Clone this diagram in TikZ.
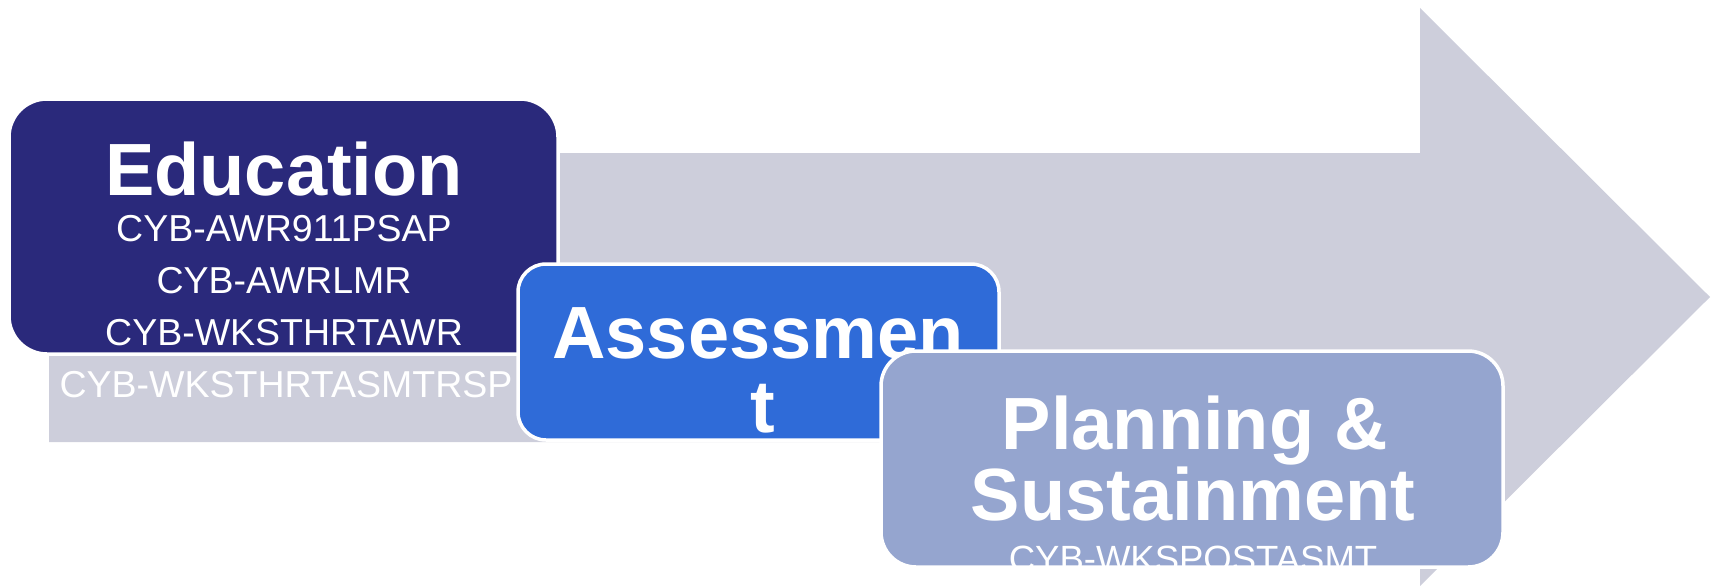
\documentclass[tikz,border=0pt]{standalone}
\usepackage{fontspec}
\setmainfont{Liberation Sans}
\definecolor{arrowgray}{HTML}{CDCEDB}
\definecolor{edunavy}{HTML}{2A297B}
\definecolor{assessblue}{HTML}{2F6BD8}
\definecolor{planlilac}{HTML}{95A5CF}
\begin{document}
\begin{tikzpicture}[x=1pt,y=-1pt,
  stagebox/.style={draw=white, line width=3.5pt, inner sep=0pt},
  title/.style={text=white, font=\fontsize{74}{74}\selectfont\bfseries, anchor=base, inner sep=0pt},
  code/.style={text=white, font=\fontsize{37.5}{37.5}\selectfont, anchor=base, inner sep=0pt}]
\useasboundingbox (0,0) rectangle (1717,586);

% large background arrow
\fill[arrowgray] (49,153) -- (1420,153) -- (1420,8) -- (1710,297)
  -- (1420,586) -- (1420,442) -- (49,442) -- cycle;

% Education stage
\node[stagebox, fill=edunavy, rounded corners=38pt,
      minimum width=549pt, minimum height=255pt] (education) at (283.5,226.5) {};
\node[title] (edutitle) at (284,195) {Education};
\node[code] (edu1) at (284,241) {CYB-AWR911PSAP};
\node[code] (edu2) at (284,293) {CYB-AWRLMR};
\node[code] (edu3) at (284,345) {CYB-WKSTHRTAWR};
\node[code] (edu4) at (286,397) {CYB-WKSTHRTASMTRSP};

% Assessment stage
\node[stagebox, fill=assessblue, rounded corners=28pt,
      minimum width=481pt, minimum height=176pt] (assessment) at (758.5,352) {};
\node[title] (asstitle1) at (758,358) {Assessmen};
\node[title] (asstitle2) at (763,432) {t};

% Planning & Sustainment stage
\node[stagebox, fill=planlilac, rounded corners=35pt,
      minimum width=622pt, minimum height=216pt] (planning) at (1192,459) {};
\node[title] (plantitle1) at (1195,449) {Planning \&};
\node[title] (plantitle2) at (1193,520) {Sustainment};
\begin{scope}
  \clip[rounded corners=33pt] (883,353) rectangle (1501,565);
  \node[code, font=\fontsize{36.5}{36.5}\selectfont] (plan1) at (1193,571) {CYB-WKSPOSTASMT};
\end{scope}
\end{tikzpicture}
\end{document}
